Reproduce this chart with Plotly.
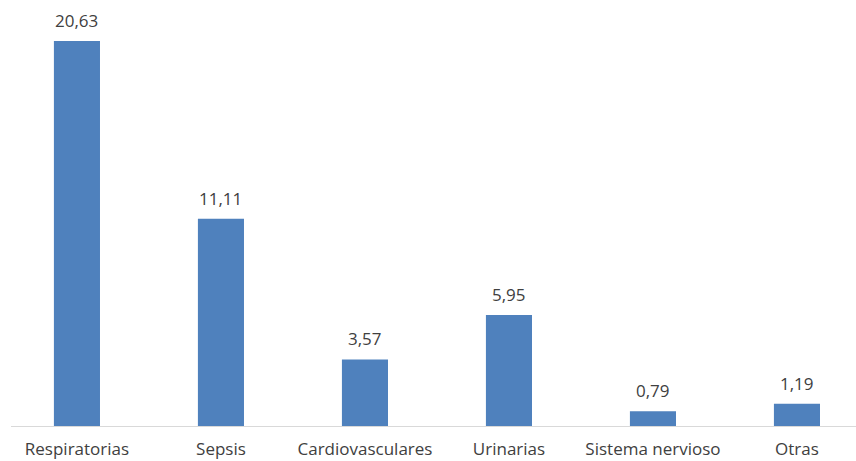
import plotly.graph_objects as go

categories = ["Respiratorias", "Sepsis", "Cardiovasculares", "Urinarias", "Sistema nervioso", "Otras"]
values = [20.63, 11.11, 3.57, 5.95, 0.79, 1.19]
labels = ["20,63", "11,11", "3,57", "5,95", "0,79", "1,19"]

FONT = "Open Sans"
fig = go.Figure()
fig.add_trace(go.Bar(x=categories, y=values, marker=dict(color="#4F81BD", line=dict(width=0)),
                     width=0.32, hoverinfo="skip"))
for c, v, t in zip(categories, values, labels):
    fig.add_annotation(x=c, y=v, text=t, showarrow=False, yanchor="bottom", yshift=7,
                       font=dict(family=FONT, size=17, color="#404040"))

fig.update_layout(
    width=856, height=461, margin=dict(l=11, r=0, t=0, b=35),
    paper_bgcolor="white", plot_bgcolor="white", showlegend=False,
    xaxis=dict(range=[-0.458, 5.41], showline=True, linecolor="#D9D9D9", linewidth=1,
               ticks="", tickfont=dict(family=FONT, size=17, color="#404040"),
               ticklabelstandoff=8, fixedrange=True),
    yaxis=dict(range=[0, 22.83], visible=False, showgrid=False, fixedrange=True),
)
fig.write_html("out.html")
